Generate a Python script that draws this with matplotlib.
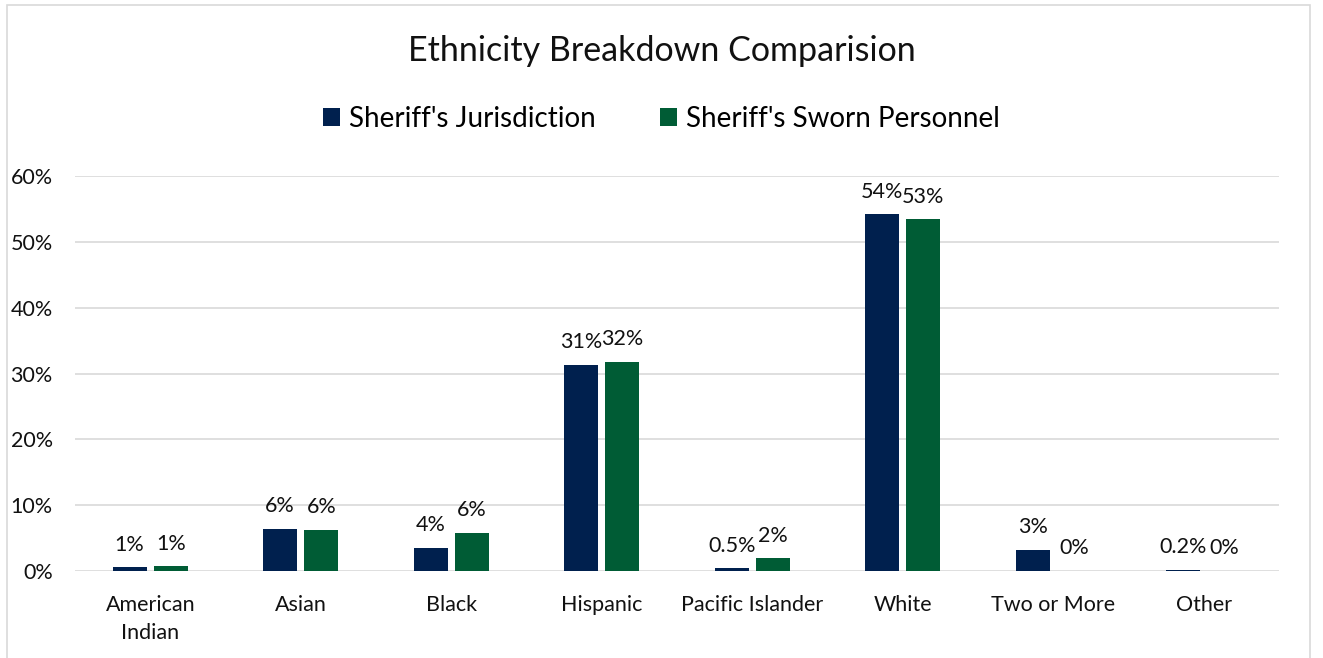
import numpy as np
import matplotlib.pyplot as plt
from matplotlib.patches import Rectangle

plt.rcParams['font.family'] = ['Lato', 'DejaVu Sans']

categories = ['American\nIndian', 'Asian', 'Black', 'Hispanic', 'Pacific Islander',
              'White', 'Two or More', 'Other']
jurisdiction = [0.6, 6.4, 3.5, 31.3, 0.4, 54.2, 3.2, 0.2]
sworn = [0.7, 6.3, 5.8, 31.8, 1.9, 53.4, 0.0, 0.0]
jurisdiction_labels = ['1%', '6%', '4%', '31%', '0.5%', '54%', '3%', '0.2%']
sworn_labels = ['1%', '6%', '6%', '32%', '2%', '53%', '0%', '0%']

navy = '#00204E'
green = '#005C35'

fig = plt.figure(figsize=(13.23, 6.58), dpi=100)
ax = fig.add_axes([75 / 1323, 1 - 571 / 658, 1204 / 1323, 395 / 658])

x = np.arange(len(categories))
w = 0.225
off = 0.137
b1 = ax.bar(x - off, jurisdiction, w, color=navy, label="Sheriff's Jurisdiction")
b2 = ax.bar(x + off, sworn, w, color=green, label="Sheriff's Sworn Personnel")

for rect, lab in zip(b1, jurisdiction_labels):
    ax.annotate(lab, (rect.get_x() + rect.get_width() / 2, rect.get_height()),
                xytext=(0, 9), textcoords='offset points', ha='center', va='bottom',
                fontsize=15.5, color='#111111')
for rect, lab in zip(b2, sworn_labels):
    ax.annotate(lab, (rect.get_x() + rect.get_width() / 2, rect.get_height()),
                xytext=(0, 9), textcoords='offset points', ha='center', va='bottom',
                fontsize=15.5, color='#111111')

ax.set_xlim(-0.5, len(categories) - 0.5)
ax.set_ylim(0, 60)
ax.set_yticks(range(0, 61, 10))
ax.set_yticklabels([f'{v}%' for v in range(0, 61, 10)])
ax.set_xticks(x)
ax.set_xticklabels(categories, linespacing=1.5)
ax.tick_params(axis='both', length=0, labelsize=15.5, colors='#111111')
ax.tick_params(axis='y', pad=16)
ax.tick_params(axis='x', pad=17)
ax.grid(axis='y', color='#D9D9D9', linewidth=1.2)
ax.set_axisbelow(True)
for s in ax.spines.values():
    s.set_visible(False)

fig.text(0.5, 1 - 51 / 658, 'Ethnicity Breakdown Comparision', ha='center', va='center',
         fontsize=24.5, color='#111111')
fig.legend(loc='center', bbox_to_anchor=(0.5, 1 - 119 / 658), ncol=2, frameon=False,
           fontsize=20, handlelength=0.6, handleheight=0.6, columnspacing=2.3,
           handletextpad=0.35)

fig.patches.append(Rectangle((7 / 1323, -0.01), 1303 / 1323, 1.0 - 5 / 658 + 0.01,
                             transform=fig.transFigure, fill=False,
                             edgecolor='#D9D9D9', linewidth=1.2))

fig.savefig('out.png', dpi=100, facecolor='white')
